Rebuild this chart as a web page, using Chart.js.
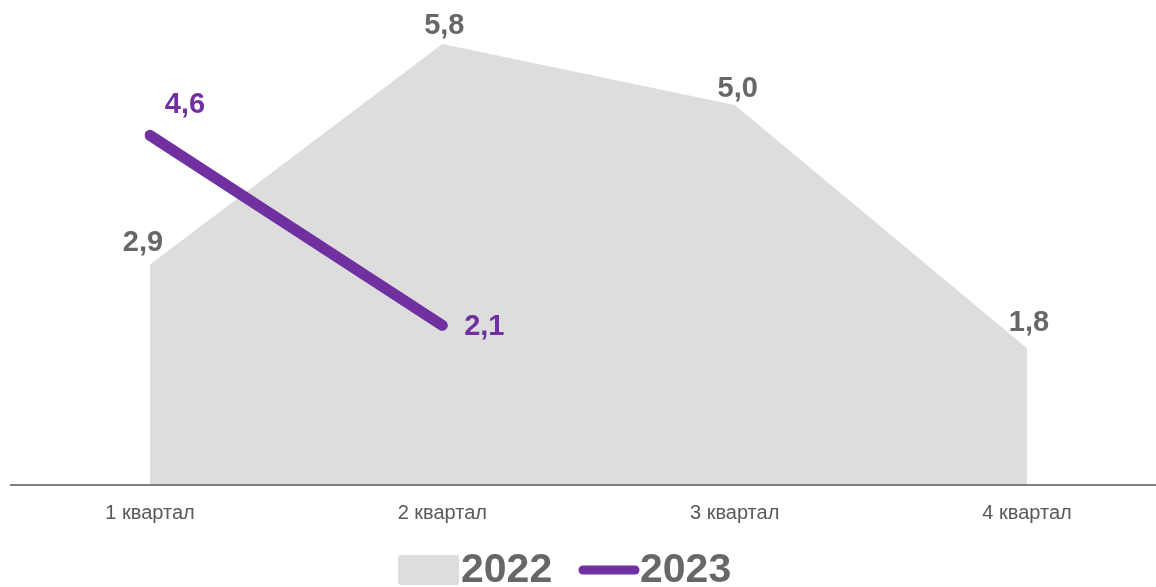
<!DOCTYPE html>
<html>
<head>
<meta charset="utf-8">
<script src="https://cdn.jsdelivr.net/npm/chart.js@4"></script>
<style>
  html, body { margin: 0; padding: 0; background: #fff; }
  #wrap { width: 1156px; height: 587px; position: relative; }
</style>
</head>
<body>
<div id="wrap"><canvas id="chart"></canvas></div>
<script>
// Data
const categories = ['1 квартал', '2 квартал', '3 квартал', '4 квартал'];
const values2022 = [2.9, 5.8, 5.0, 1.8];
const values2023 = [4.6, 2.1, null, null];
const seriesNames = ['2022', '2023'];

// Colors
const grayFill = '#dddddd';
const labelGray = '#676767';
const purple = '#7030a0';

// Label offsets (px) relative to each point
const offsets2022 = [[-7, -22], [2, -18], [3, -16], [2, -25]];
const offsets2023 = [[35, -30], [42, 2]];

const fmt = v => v.toFixed(1).replace('.', ',');

// Draws value labels, the full-width axis line and the legend
const extras = {
    id: 'extras',
    afterDatasetsDraw(chart) {
        const ctx = chart.ctx;
        const yZero = chart.scales.y.getPixelForValue(0);

        // Axis line
        ctx.save();
        ctx.strokeStyle = '#7f7f7f';
        ctx.lineWidth = 2;
        ctx.beginPath();
        ctx.moveTo(10, yZero);
        ctx.lineTo(1156, yZero);
        ctx.stroke();

        // Value labels
        ctx.font = 'bold 29px Arial, "Liberation Sans", sans-serif';
        ctx.textAlign = 'center';
        ctx.textBaseline = 'middle';
        [[0, offsets2022, labelGray], [1, offsets2023, purple]].forEach(([di, offs, color]) => {
            const meta = chart.getDatasetMeta(di);
            const data = chart.data.datasets[di].data;
            meta.data.forEach((pt, i) => {
                if (data[i] == null) return;
                ctx.fillStyle = color;
                ctx.fillText(fmt(data[i]), pt.x + offs[i][0], pt.y + offs[i][1]);
            });
        });

        // Legend
        const ly = 570;
        ctx.font = 'bold 41px Arial, "Liberation Sans", sans-serif';
        ctx.textAlign = 'left';
        ctx.fillStyle = grayFill;
        ctx.beginPath();
        ctx.roundRect(398, 555, 61, 30, 3);
        ctx.fill();
        ctx.fillStyle = labelGray;
        ctx.fillText(seriesNames[0], 461, ly + 1);

        ctx.strokeStyle = purple;
        ctx.lineWidth = 9;
        ctx.lineCap = 'round';
        ctx.beginPath();
        ctx.moveTo(583, ly);
        ctx.lineTo(635, ly);
        ctx.stroke();
        ctx.fillStyle = labelGray;
        ctx.fillText(seriesNames[1], 640, ly + 1);
        ctx.restore();
    }
};

new Chart(document.getElementById('chart'), {
    type: 'line',
    data: {
        labels: categories,
        datasets: [
            {
                label: seriesNames[0],
                data: values2022,
                fill: 'origin',
                backgroundColor: grayFill,
                borderWidth: 0,
                pointRadius: 0,
                tension: 0,
                order: 2
            },
            {
                label: seriesNames[1],
                data: values2023,
                fill: false,
                borderColor: purple,
                borderWidth: 11,
                borderCapStyle: 'round',
                pointRadius: 0,
                tension: 0,
                spanGaps: false,
                order: 1
            }
        ]
    },
    options: {
        responsive: true,
        maintainAspectRatio: false,
        animation: false,
        layout: {
            padding: { left: 150, right: 129, top: 0, bottom: 54 }
        },
        plugins: {
            legend: { display: false },
            tooltip: { enabled: false }
        },
        scales: {
            x: {
                offset: false,
                grid: { display: false },
                border: { display: false },
                ticks: {
                    color: '#595959',
                    padding: 8,
                    maxRotation: 0,
                    font: { size: 20, family: 'Arial, "Liberation Sans", sans-serif' }
                }
            },
            y: {
                display: false,
                min: 0,
                max: 6.38
            }
        }
    },
    plugins: [extras]
});
</script>
</body>
</html>
